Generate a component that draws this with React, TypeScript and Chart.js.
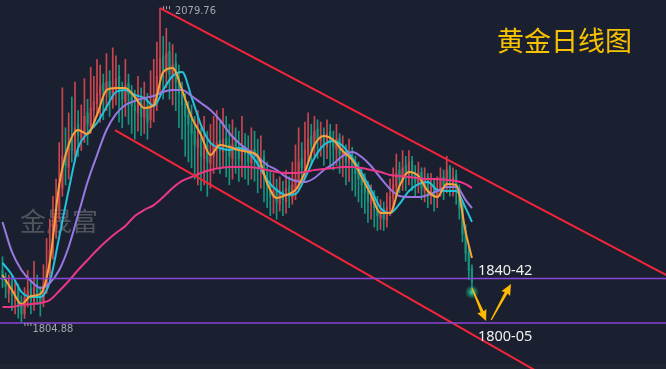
import React, { useEffect, useRef } from "react";
import { Chart, registerables } from "chart.js";
Chart.register(...registerables);

// ---- candle data (daily gold) ----
const opens = [1850,1842,1830,1840,1826,1834,1820,1812,1826,1834,
1822,1838,1830,1822,1836,1848,1866,1888,1904,1922,
1952,1940,1966,1952,1978,1966,1970,1988,1976,1990,
1996,2004,2014,2006,2016,2000,2008,2020,2008,1998,
2014,2006,1994,1988,2000,1984,1994,1982,1994,2000,
2018,2038,2024,2042,2020,2032,2016,2006,1996,1986,
1978,1972,1958,1966,1948,1960,1944,1950,1958,1964,
1954,1966,1960,1948,1962,1956,1946,1958,1954,1944,
1956,1952,1940,1950,1936,1926,1914,1922,1908,1920,
1910,1924,1914,1922,1928,1948,1938,1952,1968,1958,
1974,1964,1970,1958,1972,1964,1956,1966,1950,1956,
1944,1952,1940,1936,1932,1926,1920,1908,1916,1904,
1896,1904,1894,1904,1914,1924,1938,1928,1942,1934,
1946,1934,1926,1936,1920,1932,1916,1926,1914,1922,
1932,1924,1940,1926,1934,1922,1906,1884,1866,1852];

const closes = [1842,1836,1838,1828,1832,1818,1812,1826,1832,1824,
1835,1828,1822,1838,1850,1868,1890,1905,1925,1950,
1942,1962,1955,1975,1968,1972,1985,1978,1992,1998,
2005,2012,2008,2015,2002,2010,2018,2006,2000,2012,
2004,1994,1990,1998,1985,1992,1980,1996,2000,2020,
2035,2025,2040,2022,2030,2015,2005,1995,1985,1978,
1970,1960,1965,1950,1958,1945,1952,1960,1962,1955,
1965,1958,1950,1960,1955,1948,1958,1952,1945,1955,
1950,1942,1948,1935,1925,1915,1920,1910,1918,1912,
1922,1915,1925,1930,1945,1940,1955,1965,1960,1972,
1965,1968,1960,1970,1962,1958,1965,1952,1955,1945,
1950,1940,1935,1930,1925,1918,1910,1915,1905,1898,
1902,1895,1905,1915,1925,1935,1930,1940,1935,1945,
1932,1928,1935,1922,1930,1918,1925,1915,1922,1930,
1925,1938,1928,1932,1920,1905,1882,1865,1850,1840];

const highs = [1862,1848,1846,1845,1840,1838,1828,1835,1850,1842,
1858,1846,1836,1855,1878,1895,1915,1930,1962,2010,
1975,1988,2002,2015,1990,1995,2018,2000,2028,2020,
2035,2030,2022,2040,2025,2045,2038,2030,2015,2035,
2022,2012,2008,2020,2010,2015,2005,2025,2035,2050,
2079.76,2055,2062,2050,2048,2040,2030,2015,2005,1998,
1995,1985,1990,1975,1985,1972,1978,1985,1990,1980,
1992,1985,1978,1982,1975,1972,1985,1970,1968,1975,
1972,1965,1968,1955,1945,1938,1935,1930,1932,1928,
1938,1932,1945,1960,1975,1962,1980,1988,1978,1985,
1982,1980,1975,1982,1978,1972,1978,1970,1968,1960,
1965,1958,1950,1945,1940,1935,1928,1925,1920,1915,
1912,1910,1918,1930,1940,1952,1945,1955,1950,1955,
1950,1942,1945,1940,1940,1935,1935,1930,1932,1940,
1938,1950,1942,1940,1938,1925,1910,1890,1872,1855];

const lows = [1835,1826,1822,1815,1812,1808,1804.88,1808,1818,1812,
1815,1820,1810,1818,1830,1842,1860,1878,1895,1915,
1925,1930,1945,1945,1950,1955,1962,1960,1970,1975,
1985,1980,1982,1990,1985,1992,1995,1980,1975,1985,
1978,1970,1965,1972,1968,1970,1965,1975,1980,1990,
2005,2000,2010,2000,1995,1990,1975,1965,1950,1945,
1940,1930,1925,1920,1925,1915,1922,1935,1940,1935,
1940,1932,1925,1930,1935,1928,1932,1930,1925,1930,
1928,1918,1922,1910,1905,1898,1900,1895,1902,1898,
1900,1905,1908,1912,1920,1925,1930,1945,1942,1950,
1948,1950,1942,1948,1940,1938,1942,1935,1932,1925,
1928,1920,1915,1910,1905,1900,1892,1895,1888,1885,
1886,1885,1888,1898,1905,1915,1918,1920,1920,1925,
1920,1915,1918,1912,1910,1905,1908,1902,1905,1915,
1912,1918,1915,1915,1908,1895,1875,1858,1842,1832];

// ---- moving averages (read at every third candle) ----
const maIndex = [0,3,6,9,12,15,18,21,24,27,30,33,36,39,42,45,48,51,54,57,60,63,66,69,72,75,78,81,84,87,90,93,96,99,102,105,108,111,114,117,120,123,126,129,132,135,138,141,144,147,149];

const ma5 = [1846.1,1832.9,1820.6,1827.6,1829.4,1857.4,1924.9,1959.9,1973.0,1969.5,
1986.2,2008.0,2009.8,2009.8,2001.9,1992.3,1994.9,2023.8,2027.3,2008.0,
1984.4,1968.7,1951.1,1959.9,1958.1,1955.5,1953.8,1950.3,1926.6,1913.5,
1916.1,1920.5,1936.2,1959.9,1967.8,1964.3,1954.6,1946.8,1931.9,1916.1,
1900.3,1900.3,1924.0,1936.2,1932.7,1919.6,1914.3,1925.7,1924.9,1883.7,1860.9];

const ma10 = [1856.6,1846.1,1831.2,1826.8,1826.8,1839.9,1879.3,1920.5,1957.3,1970.4,
1979.2,1993.2,2006.3,2008.0,2003.7,2001.1,1994.1,2008.0,2020.3,2023.8,
2001.9,1977.4,1961.7,1957.3,1955.5,1957.3,1953.8,1943.3,1929.2,1920.5,
1916.1,1917.0,1931.0,1948.5,1959.9,1963.4,1959.0,1948.5,1935.4,1920.5,
1904.7,1900.3,1908.2,1919.6,1925.7,1927.5,1920.5,1919.6,1919.6,1904.7,1892.5];

const ma20 = [1892.5,1866.2,1850.4,1840.8,1834.7,1839.0,1850.4,1870.6,1898.6,1927.5,
1951.1,1973.0,1987.0,1994.9,1998.4,2001.1,2002.8,2006.3,2008.0,2008.0,
2002.8,1996.7,1990.5,1981.8,1970.4,1961.7,1955.5,1949.4,1942.4,1938.0,
1931.9,1928.4,1927.5,1931.0,1938.0,1943.3,1950.3,1953.8,1949.4,1941.5,
1931.0,1921.4,1915.2,1914.3,1914.3,1916.1,1919.6,1923.1,1923.1,1911.7,1904.7];

const ma60 = [1818.0,1818.0,1819.8,1820.6,1821.5,1824.1,1832.0,1840.8,1850.4,1859.2,
1867.9,1875.8,1882.8,1888.9,1897.7,1903.0,1907.3,1914.3,1922.2,1928.4,
1931.9,1935.4,1938.0,1939.7,1940.6,1940.6,1940.6,1939.7,1938.0,1936.2,
1935.4,1935.4,1936.2,1938.0,1938.9,1939.7,1940.6,1940.6,1939.7,1938.0,
1936.2,1933.6,1932.7,1931.9,1931.0,1930.1,1930.1,1929.2,1928.4,1925.7,1922.2];

// ---- annotations ----
const upperTrend = [[50, 2079.76], [212, 1844.2]];
const lowerTrend = [[35.7, 1973], [172, 1757.9]];
const resistanceLevel = 1843;
const supportLevel = 1804;
const resistanceText = "1840-42";
const supportText = "1800-05";
const highIndex = 50;
const highText = "2079.76";
const lowIndex = 6;
const lowText = "1804.88";
const titleText = "黄金日线图";
const watermarkText = "金晟富";
const arrowDown = [[149, 1834.7], [153.5, 1805.7]];
const arrowUp = [[155.1, 1806.6], [161.4, 1838.2]];
const glowPoint = [149, 1831];

const X_MIN = -0.794;
const X_MAX = 210.6;
const Y_MIN = 1763.7;
const Y_MAX = 2086.9;

const UP = "#c9464f";
const DOWN = "#16957f";

function drawArrow(ctx: CanvasRenderingContext2D, x1: number, y1: number, x2: number, y2: number) {
  const ang = Math.atan2(y2 - y1, x2 - x1);
  const len = Math.hypot(x2 - x1, y2 - y1);
  const headLen = 11;
  const headW = 5;
  ctx.save();
  ctx.translate(x1, y1);
  ctx.rotate(ang);
  ctx.beginPath();
  ctx.moveTo(0, -0.6);
  ctx.lineTo(len - headLen + 1, -1.6);
  ctx.lineTo(len - headLen, -headW);
  ctx.lineTo(len, 0);
  ctx.lineTo(len - headLen, headW);
  ctx.lineTo(len - headLen + 1, 1.6);
  ctx.lineTo(0, 0.6);
  ctx.closePath();
  ctx.fill();
  ctx.restore();
}

const overlayPlugin = {
  id: "overlay",
  beforeDatasetsDraw(chart: any) {
    const { ctx } = chart;
    ctx.save();
    ctx.fillStyle = "#1e2432";
    ctx.fillRect(0, 364, chart.width, 5);
    ctx.fillStyle = "#50545c";
    ctx.font = '26px "Noto Sans CJK SC"';
    ctx.textBaseline = "middle";
    ctx.textAlign = "left";
    ctx.fillText(watermarkText, 20, 221);
    ctx.restore();
  },
  afterDatasetsDraw(chart: any) {
    const { ctx } = chart;
    const xs = chart.scales.x;
    const ys = chart.scales.y;
    ctx.save();
    // high / low labels
    ctx.fillStyle = "#a3a7ae";
    ctx.font = '11px "Liberation Sans Narrow", "DejaVu Sans Condensed", "Liberation Sans"';
    ctx.textBaseline = "alphabetic";
    const hx = xs.getPixelForValue(highIndex);
    const hy = ys.getPixelForValue(highs[highIndex]);
    for (const dx of [3, 6, 9]) ctx.fillRect(hx + dx, hy - 2, 1, 3);
    ctx.fillText(highText, hx + 15, hy + 6);
    const lx = xs.getPixelForValue(lowIndex);
    const ly = ys.getPixelForValue(lows[lowIndex]);
    for (const dx of [3, 6, 9]) ctx.fillRect(lx + dx, ly + 1, 1, 3);
    ctx.fillText(lowText, lx + 11, ly + 10);

    // title
    ctx.fillStyle = "#f7c300";
    ctx.font = '27px "Noto Sans CJK SC"';
    ctx.textBaseline = "middle";
    ctx.fillText(titleText, 497, 41);

    // level labels
    ctx.fillStyle = "#f0f0f0";
    ctx.font = '14.5px "Noto Sans", "Open Sans"';
    ctx.textBaseline = "alphabetic";
    const lastX = xs.getPixelForValue(149);
    ctx.fillText(resistanceText, lastX + 6, ys.getPixelForValue(resistanceLevel) - 3);
    ctx.fillText(supportText, lastX + 6, ys.getPixelForValue(supportLevel) + 18);

    // glow
    const gx = xs.getPixelForValue(glowPoint[0]);
    const gy = ys.getPixelForValue(glowPoint[1]);
    const grad = ctx.createRadialGradient(gx, gy, 0, gx, gy, 7);
    grad.addColorStop(0, "rgba(60,230,180,0.95)");
    grad.addColorStop(0.5, "rgba(30,190,150,0.55)");
    grad.addColorStop(1, "rgba(30,190,150,0)");
    ctx.fillStyle = grad;
    ctx.beginPath();
    ctx.arc(gx, gy, 7, 0, Math.PI * 2);
    ctx.fill();

    // arrows
    ctx.fillStyle = "#ffba00";
    for (const a of [arrowDown, arrowUp]) {
      drawArrow(
        ctx,
        xs.getPixelForValue(a[0][0]), ys.getPixelForValue(a[0][1]),
        xs.getPixelForValue(a[1][0]), ys.getPixelForValue(a[1][1])
      );
    }
    ctx.restore();
  },
};

export default function App() {
  const ref = useRef<HTMLCanvasElement | null>(null);
  useEffect(() => {
    if (!ref.current) return;
    const idx = closes.map((_, i) => i);
    const colors = closes.map((c, i) => (c >= opens[i] ? UP : DOWN));
    const maLine = (vals: number[], color: string, order: number) => ({
      type: "line" as const,
      data: maIndex.map((x, k) => ({ x, y: vals[k] })),
      borderColor: color,
      borderWidth: 2,
      pointRadius: 0,
      cubicInterpolationMode: "monotone" as const,
      order,
    });
    const straight = (pts: number[][], color: string, width: number, order: number) => ({
      type: "line" as const,
      data: pts.map((p) => ({ x: p[0], y: p[1] })),
      borderColor: color,
      borderWidth: width,
      pointRadius: 0,
      tension: 0,
      order,
    });
    const chart = new Chart(ref.current, {
      type: "bar",
      data: {
        datasets: [
          straight([[X_MIN, resistanceLevel], [X_MAX, resistanceLevel]], "#8a45d8", 1.5, 1),
          straight([[X_MIN, supportLevel], [X_MAX, supportLevel]], "#8a45d8", 1.5, 1),
          straight(upperTrend, "#f4253a", 2, 1),
          straight(lowerTrend, "#f4253a", 2, 1),
          maLine(ma60, "#e93886", 2),
          maLine(ma20, "#9a78e4", 3),
          maLine(ma10, "#22c1dc", 4),
          maLine(ma5, "#f7a33c", 2),
          {
            type: "bar" as const,
            data: idx.map((i) => ({ x: i, y: [lows[i], highs[i]] })),
            backgroundColor: colors,
            barThickness: 1,
            grouped: false,
            order: 10,
          } as any,
          {
            type: "bar" as const,
            data: idx.map((i) => ({ x: i, y: [opens[i], closes[i]] })),
            backgroundColor: colors,
            barThickness: 1.5,
            grouped: false,
            order: 9,
          } as any,
        ],
      },
      options: {
        animation: false,
        responsive: false,
        maintainAspectRatio: false,
        layout: { padding: 0 },
        plugins: { legend: { display: false }, tooltip: { enabled: false } },
        scales: {
          x: { type: "linear", min: X_MIN, max: X_MAX, display: false, offset: false },
          y: { type: "linear", min: Y_MIN, max: Y_MAX, display: false },
        },
      } as any,
      plugins: [overlayPlugin],
    } as any);
    return () => chart.destroy();
  }, []);
  return (
    <div style={{ position: "fixed", left: 0, top: 0, width: 666, height: 369, background: "#1b2030" }}>
      <canvas ref={ref} width={666} height={369} style={{ display: "block" }} />
    </div>
  );
}
